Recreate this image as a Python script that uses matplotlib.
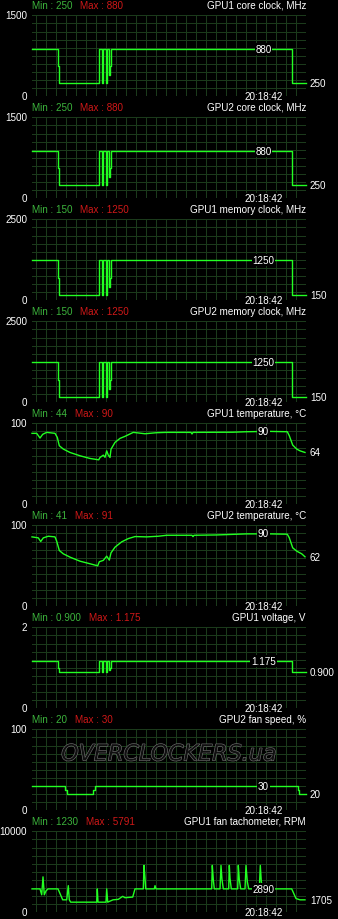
import matplotlib
matplotlib.use("Agg")
import matplotlib.pyplot as plt
import matplotlib.patheffects as pe
import numpy as np

plt.rcParams["font.family"] = ["Liberation Sans", "DejaVu Sans"]

# time breakpoints (samples) shared by the clock / voltage graphs
t_clk = [0, 26, 26.7, 66.7, 67.2, 69.8, 70.6, 73.5, 74.0, 74.8, 76.6, 77.8, 78.6, 259.6, 260.3, 274]
core1 = [880, 570, 250, 570, 880, 250, 880, 570, 250, 880, 400, 570, 880, 570, 250, 250]
core2 = [880, 570, 250, 570, 880, 250, 880, 570, 250, 880, 400, 570, 880, 570, 250, 250]
mem1 = [1250, 685, 150, 685, 1250, 150, 1250, 685, 150, 1250, 400, 685, 1250, 685, 150, 150]
mem2 = [1250, 685, 150, 685, 1250, 150, 1250, 685, 150, 1250, 400, 685, 1250, 685, 150, 150]
volt = [1.175, 1.0, 0.9, 1.0, 1.175, 0.9, 1.175, 1.0, 0.9, 1.175, 0.95, 1.0, 1.175, 1.0, 0.9, 0.9]

t_temp1 = [0, 4.7, 8, 10.7, 14.7, 23, 25.3, 27.3, 31.3, 38, 48, 58, 66.7, 68, 71.3, 73, 74.7,
           76.3, 78, 79, 83, 88, 93, 101.3, 113, 124.7, 134.7, 159, 160, 161, 201, 214.7, 238,
           255.3, 257.3, 260.7, 264.7, 268, 273]
temp1 = [87.6, 87.6, 81.8, 86.4, 88.8, 87.6, 82.6, 72.3, 68.2, 64, 59.9, 56.6, 54.9, 57.8, 60.7,
         58, 66, 60.7, 57.8, 68, 76.4, 81.4, 83.9, 88.8, 87.1, 88.4, 88.8, 88.8, 86.8, 88.8, 89,
         89.6, 90, 89.6, 84.6, 73.1, 68.2, 66, 64]

t_temp2 = [0, 6.3, 8.7, 11.3, 16.3, 23, 24.7, 27.3, 31.3, 38, 48, 58, 65.7, 67.3, 71.3, 74.7,
           77.3, 79, 83, 89.7, 96.3, 103, 114.7, 126.3, 134.7, 160, 161, 162, 184.7, 214.7, 238,
           255.3, 257.3, 260.7, 264.7, 269.7, 273]
temp2 = [85.7, 84.5, 80, 84.5, 86.5, 85.7, 80.3, 68.9, 64.8, 60.7, 55.7, 52.5, 50, 55, 56.7,
         61.9, 57, 66, 73, 79.6, 83.6, 86.1, 85.7, 86.5, 87.7, 87.7, 86.0, 87.7, 88.1, 89.4, 89.4,
         89, 84.5, 72.2, 68.1, 64.8, 61.1]

t_fan = [0, 33.3, 34.7, 61.3, 62.7, 265.7, 267, 274]
fan = [30, 25, 20, 25, 30, 25, 20, 20]

t_tach = [0, 8, 9.7, 11, 12.3, 14, 16, 26, 30.7, 34.7, 36.3, 37.3, 38.7, 64.7, 65.3, 66, 74, 74.7,
          75.7, 81, 86.3, 90.7, 93, 100.7, 103, 111.3, 112, 113, 113.7, 122.3, 123, 124, 179.7,
          180.3, 181.3, 182.3, 188, 189, 190, 191.3, 196.7, 197.3, 198, 199.3, 205.7, 206.3,
          207.3, 208.7, 213, 214, 215.3, 216.7, 227.3, 228.3, 229.3, 230.7, 259.7, 264, 268, 273]
tach = [2890, 2890, 2160, 4375, 2160, 2640, 2890, 2890, 1540, 1540, 3290, 1540, 1250, 1250, 2890,
        1250, 1250, 2890, 1250, 1540, 1600, 1970, 1800, 1880, 2890, 2890, 5790, 4250, 2890, 2890,
        3290, 2890, 2890, 5790, 4040, 2890, 2890, 5790, 4040, 2890, 2890, 5790, 4200, 2890, 2890,
        5790, 4040, 2890, 2890, 5790, 3800, 2890, 2890, 5790, 3800, 2890, 2890, 1700, 1540, 1540]

panels = [
    ("GPU1 core clock, MHz", 1500, "250", "880", t_clk, core1, "step", 880, "880", "250"),
    ("GPU2 core clock, MHz", 1500, "250", "880", t_clk, core2, "step", 880, "880", "250"),
    ("GPU1 memory clock, MHz", 2500, "150", "1250", t_clk, mem1, "step", 1250, "1250", "150"),
    ("GPU2 memory clock, MHz", 2500, "150", "1250", t_clk, mem2, "step", 1250, "1250", "150"),
    ("GPU1 temperature, °C", 100, "44", "90", t_temp1, temp1, "line", 90, "90", "64"),
    ("GPU2 temperature, °C", 100, "41", "91", t_temp2, temp2, "line", 90, "90", "62"),
    ("GPU1 voltage, V", 2, "0.900", "1.175", t_clk, volt, "step", 1.175, "1.175", "0.900"),
    ("GPU2 fan speed, %", 100, "20", "30", t_fan, fan, "step", 30, "30", "20"),
    ("GPU1 fan tachometer, RPM", 10000, "1230", "5791", t_tach, tach, "line", 2890, "2890", "1705"),
]

W, H = 338, 920
fig = plt.figure(figsize=(3.38, 9.2), dpi=100, facecolor="black")
fs = 7.1
line_c = "#22ff22"
grid_c = "#1b3a1b"

for i, (title, ymax, mn, mx, t, v, kind, mid_v, mid_s, end_s) in enumerate(panels):
    top = 16.3 + 102 * i
    ax = fig.add_axes([32 / W, 1 - (top + 81) / H, 274 / W, 81 / H])
    ax.set_facecolor("black")
    ax.set_xlim(0, 274)
    ax.set_ylim(0, ymax)
    ax.set_xticks(np.arange(4, 275, 10))
    ax.set_yticks(np.linspace(0, ymax, 11))
    ax.grid(color=grid_c, lw=0.5, antialiased=False)
    ax.set_axisbelow(True)
    ax.tick_params(length=0, labelleft=False, labelbottom=False)
    for s in ax.spines.values():
        s.set_visible(False)

    if kind == "step":
        ax.step(t, v, where="post", color=line_c, lw=1.0, clip_on=False)
    else:
        ax.plot(t, v, color=line_c, lw=1.0, clip_on=False)

    # header
    hy = 1 + 10.5 / 81
    mt = ax.text(0, hy, "Min : " + mn, color="#3cb43c", fontsize=fs, ha="left", va="center",
                 transform=ax.transAxes)
    ax.annotate("Max : " + mx, xy=(1, 0.5), xycoords=mt, xytext=(8, 0), textcoords="offset pixels",
                color="#d01818", fontsize=fs, ha="left", va="center")
    ax.text(1, hy, title, color="white", fontsize=fs, ha="right", va="center", transform=ax.transAxes)

    # y range labels
    ax.text(-5 / 274, 1, str(ymax), color="white", fontsize=fs, ha="right", va="center",
            transform=ax.transAxes)
    ax.text(-5 / 274, 0, "0", color="white", fontsize=fs, ha="right", va="center",
            transform=ax.transAxes)

    # time stamp
    ax.text(232, 0, "20:18:42", color="white", fontsize=fs, ha="center", va="center",
            transform=ax.get_xaxis_transform(),
            bbox=dict(facecolor="black", edgecolor="none", pad=0.6))

    # value labels
    ax.text(231.5, mid_v, mid_s, color="white", fontsize=fs, ha="center", va="center",
            bbox=dict(facecolor="black", edgecolor="none", pad=0.6))
    ax.annotate(end_s, xy=(1, v[-1]), xycoords=("axes fraction", "data"), xytext=(4, 0),
                textcoords="offset pixels", color="white", fontsize=fs, ha="left", va="center")

    if i == 7:
        ax.text(0.5, 0.69, "OVERCLOCKERS.ua", transform=ax.transAxes, ha="center", va="center",
                fontsize=16, fontstyle="italic", family="DejaVu Sans", color="#101010",
                path_effects=[pe.withStroke(linewidth=0.9, foreground="#6e6e6e")])

fig.savefig("out.png", dpi=100, facecolor="black")
